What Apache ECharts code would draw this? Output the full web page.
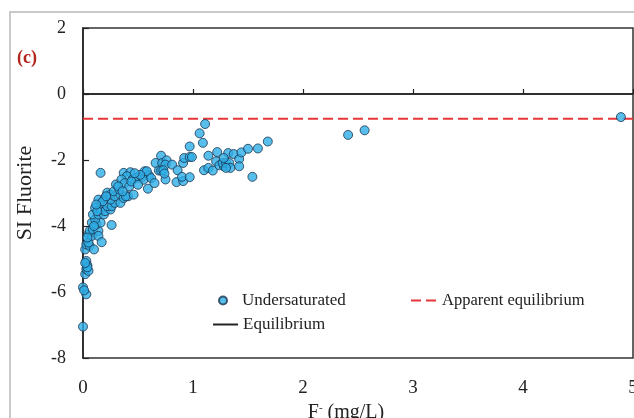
<!DOCTYPE html>
<html>
<head>
<meta charset="utf-8">
<script src="https://cdn.jsdelivr.net/npm/echarts@6/dist/echarts.min.js"></script>
<style>
  html, body { margin: 0; padding: 0; background: #fff; }
  #chart { width: 634px; height: 418px; }
</style>
</head>
<body>
<div id="chart"></div>
<script>
// Fluoride concentration (mg/L) and fluorite saturation index for each sample
const fluorideMgL = [
  0.00, 0.00, 0.03, 0.01,
  0.02, 0.03, 0.04, 0.03, 0.05, 0.04, 0.02,
  0.02, 0.03, 0.06, 0.10, 0.05,
  0.05, 0.08, 0.06, 0.09, 0.14, 0.14, 0.17, 0.04,
  0.08, 0.12, 0.16, 0.11, 0.26, 0.10,
  0.09, 0.14, 0.19, 0.11, 0.16, 0.20, 0.25, 0.13,
  0.14, 0.17, 0.22, 0.26, 0.29, 0.25, 0.20, 0.22, 0.25, 0.29, 0.28, 0.34, 0.33, 0.30, 0.34, 0.37, 0.41, 0.39, 0.46, 0.18, 0.21, 0.12,
  0.16,
  0.37, 0.43, 0.40, 0.35, 0.45, 0.49, 0.54, 0.56, 0.60, 0.59, 0.55, 0.58, 0.38, 0.42, 0.32, 0.36, 0.44, 0.50, 0.52, 0.47, 0.62, 0.65,
  0.71, 0.66, 0.72, 0.76, 0.75, 0.69, 0.71, 0.73, 0.75, 0.74, 0.81, 0.86, 0.85, 0.91, 0.90, 0.97, 0.91, 0.92, 0.97, 0.99,
  0.97, 1.06, 1.11, 1.09, 1.14, 1.10, 1.14, 1.18, 1.22, 1.21, 1.24, 1.28, 1.27, 1.30, 1.32, 1.33, 1.34, 1.30, 1.28,
  1.37, 1.42, 1.42, 1.44, 1.50, 1.54, 1.59, 1.68,
  2.41, 2.56, 4.89
];
const siFluorite = [
  -7.05, -5.86, -6.07, -5.95,
  -5.46, -5.31, -5.19, -5.06, -5.36, -5.25, -5.12,
  -4.71, -4.56, -4.60, -4.71, -4.50,
  -4.25, -4.30, -4.15, -4.10, -4.15, -4.30, -4.49, -4.35,
  -3.90, -3.95, -3.90, -3.80, -3.97, -4.00,
  -3.65, -3.65, -3.65, -3.45, -3.50, -3.55, -3.50, -3.55,
  -3.20, -3.30, -3.40, -3.40, -3.30, -3.20, -3.15, -2.99, -3.05, -3.10, -2.95, -3.05, -2.89, -2.74, -3.30, -3.15, -3.10, -3.10, -3.05, -3.25, -3.10, -3.35,
  -2.39,
  -2.39, -2.37, -2.49, -2.59, -2.59, -2.54, -2.51, -2.34, -2.47, -2.87, -2.60, -2.34, -2.70, -2.80, -2.80, -2.95, -2.65, -2.75, -2.45, -2.40, -2.55, -2.70,
  -1.87, -2.09, -2.09, -2.01, -2.14, -2.32, -2.32, -2.31, -2.59, -2.41, -2.14, -2.31, -2.67, -2.64, -2.51, -2.52, -2.09, -1.94, -1.91, -1.91,
  -1.59, -1.19, -0.91, -1.48, -1.87, -2.31, -2.24, -2.32, -1.76, -2.04, -2.16, -2.19, -2.09, -2.09, -1.79, -2.09, -2.24, -2.24, -1.94,
  -1.82, -1.97, -2.19, -1.77, -1.66, -2.51, -1.65, -1.44,
  -1.24, -1.10, -0.70
];

// Reference levels (saturation index)
const equilibriumSI = 0;
const apparentEquilibriumSI = -0.75;

// Axis ranges
const xRange = [0, 5];
const yRange = [-8, 2];

const serif = '"Liberation Serif", "DejaVu Serif", serif';
const ink = '#222';

const samples = fluorideMgL.map((f, i) => [f, siFluorite[i]]);

const chart = echarts.init(document.getElementById('chart'), null, { renderer: 'canvas' });

const legendText = { fontFamily: serif, fontSize: 17, color: ink };
// line entries: show only the stroke, no symbol in the middle
const lineLegendItem = (name) => ({ name: name, icon: 'inherit', itemStyle: { opacity: 0 } });

chart.setOption({
  animation: false,
  backgroundColor: '#fff',
  textStyle: { fontFamily: serif },
  graphic: [
    {
      type: 'rect',
      shape: { x: 10, y: 12, width: 700, height: 500 },
      style: { fill: 'none', stroke: '#c9c9c9', lineWidth: 2 },
      z: 0
    },
    {
      type: 'text',
      left: 17,
      top: 49,
      style: {
        text: '(c)',
        fill: '#b3261e',
        font: 'bold 18px ' + serif
      }
    }
  ],
  grid: {
    left: 83, top: 28, right: 1, bottom: 60,
    outerBoundsMode: 'none',
    containLabel: false,
    show: true,
    borderColor: '#333',
    borderWidth: 1.5,
    backgroundColor: 'transparent'
  },
  xAxis: {
    type: 'value',
    min: xRange[0], max: xRange[1], interval: 1,
    name: 'F{sup|-} (mg/L)',
    nameLocation: 'middle',
    nameGap: 43,
    nameTextStyle: {
      fontFamily: serif, fontSize: 20, color: ink,
      padding: [0, 24, 0, 0],
      rich: { sup: { fontFamily: serif, fontSize: 11, color: ink, verticalAlign: 'top', padding: [0, 0, 9, 0] } }
    },
    axisLine: { lineStyle: { color: ink, width: 1.5 } },
    axisTick: { inside: true, length: 5, lineStyle: { color: ink, width: 1.2 } },
    axisLabel: { fontFamily: serif, fontSize: 19, color: ink, margin: 21 },
    splitLine: { show: false }
  },
  yAxis: {
    type: 'value',
    min: yRange[0], max: yRange[1], interval: 2,
    name: 'SI Fluorite',
    nameLocation: 'middle',
    nameGap: 47,
    nameTextStyle: { fontFamily: serif, fontSize: 22, color: ink },
    axisLine: { lineStyle: { color: ink, width: 1.5 } },
    axisTick: { inside: true, length: 6, lineStyle: { color: ink, width: 1.2 } },
    axisLabel: { fontFamily: serif, fontSize: 18, color: ink, margin: 17 },
    splitLine: { show: false }
  },
  legend: [
    {
      left: 218, top: 292, padding: 0,
      itemWidth: 28, itemHeight: 8,
      textStyle: legendText,
      data: [{ name: 'Undersaturated', icon: 'circle' }]
    },
    {
      left: 410, top: 292, padding: 0,
      itemWidth: 26, itemHeight: 14,
      textStyle: Object.assign({}, legendText, { fontSize: 16.5 }),
      data: [lineLegendItem('Apparent equilibrium')]
    },
    {
      left: 212, top: 316, padding: 0,
      itemWidth: 25, itemHeight: 14,
      textStyle: legendText,
      data: [lineLegendItem('Equilibrium')]
    }
  ],
  series: [
    {
      name: 'Equilibrium',
      type: 'line',
      symbol: 'none',
      silent: true,
      data: [[xRange[0], equilibriumSI], [xRange[1], equilibriumSI]],
      lineStyle: { color: ink, width: 1.5 },
      itemStyle: { color: ink },
      z: 2
    },
    {
      name: 'Apparent equilibrium',
      type: 'line',
      symbol: 'none',
      silent: true,
      data: [[xRange[0], apparentEquilibriumSI], [xRange[1], apparentEquilibriumSI]],
      lineStyle: { color: '#e8353a', width: 2, type: [10, 5] },
      itemStyle: { color: '#e8353a' },
      z: 2
    },
    {
      name: 'Undersaturated',
      type: 'scatter',
      symbol: 'circle',
      symbolSize: 9,
      data: samples,
      itemStyle: { color: '#2eaee6', borderColor: '#1c3550', borderWidth: 1 },
      z: 3
    }
  ]
});
</script>
</body>
</html>
